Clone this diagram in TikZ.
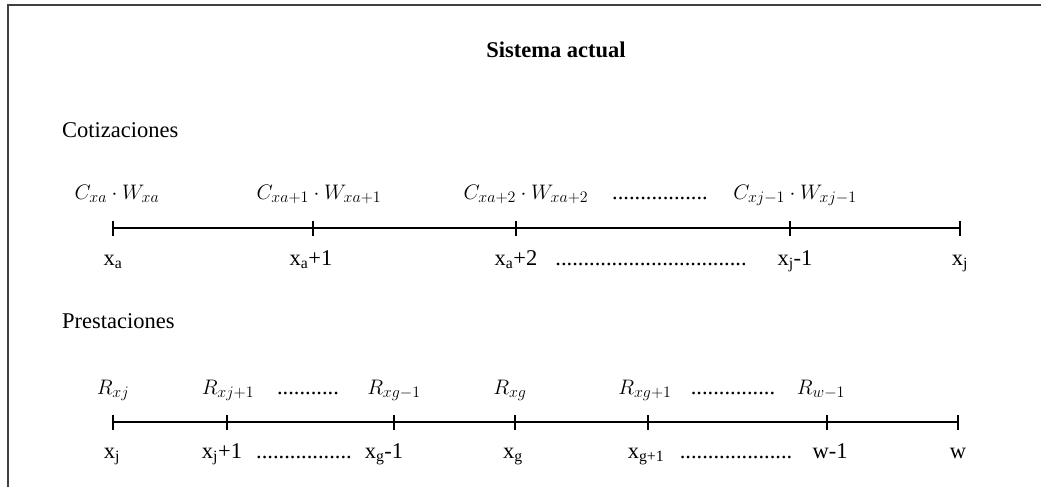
\RequirePackage{fix-cm}
\documentclass[tikz,border=0pt]{standalone}
\usepackage{fontspec}
\setmainfont{Liberation Serif}
\DeclareMathSizes{21}{21}{16}{12}
\definecolor{framegray}{HTML}{404040}
\tikzset{
  frameline/.style={draw=framegray, line width=2pt},
  axis/.style={draw=black, line width=2.7pt},
  tickmark/.style={draw=black, line width=2.7pt},
  lbl/.style={anchor=base, inner sep=0pt, font=\fontsize{22.5}{27}\selectfont},
  mlbl/.style={anchor=base, inner sep=0pt, font=\fontsize{21}{25}\selectfont},
  head/.style={anchor=base west, inner sep=0pt, font=\fontsize{22.5}{27}\selectfont},
  ttl/.style={anchor=base, inner sep=0pt, font=\fontsize{22.5}{27}\selectfont\bfseries}
}
\begin{document}
\begin{tikzpicture}[x=1pt, y=-1pt]
\useasboundingbox (0,0) rectangle (1041,487);
% frame (only top and left edges visible)
\coordinate (fbl) at (7.5,487);
\coordinate (ftl) at (7.5,5.5);
\coordinate (ftr) at (1041,5.5);
\draw[frameline] (fbl) -- (ftl) -- (ftr);

\node[ttl] (title) at (556,58) {Sistema actual};
\node[head] (cot) at (62,137) {Cotizaciones};
\node[head] (pre) at (62,328) {Prestaciones};

% ---- upper timeline ----
\coordinate (a0) at (113,228);
\coordinate (a1) at (313,228);
\coordinate (a2) at (516,228);
\coordinate (a3) at (790,228);
\coordinate (a4) at (960,228);
\draw[axis] (a0) -- (a4);
\foreach \n in {a0,a1,a2,a3,a4}
  \draw[tickmark] ([yshift=-7.5pt]\n) -- ([yshift=7.5pt]\n);

\node[mlbl] (ma0) at (117,199) {$C_{xa}\cdot W_{xa}$};
\node[mlbl] (ma1) at (319,199) {$C_{xa+1}\cdot W_{xa+1}$};
\node[mlbl] (ma2) at (526,199) {$C_{xa+2}\cdot W_{xa+2}$};
\node[lbl] (da1) at (660,199) {.................};
\node[mlbl] (ma3) at (795,199) {$C_{xj-1}\cdot W_{xj-1}$};

\node[lbl] (la0) at (113,265) {x\textsubscript{a}};
\node[lbl] (la1) at (311,265) {x\textsubscript{a}+1};
\node[lbl] (la2) at (516,265) {x\textsubscript{a}+2};
\node[lbl] (da2) at (651,265) {..................................};
\node[lbl] (la3) at (795,265) {x\textsubscript{j}-1};
\node[lbl] (la4) at (960,265) {x\textsubscript{j}};

% ---- lower timeline ----
\coordinate (b0) at (113,422);
\coordinate (b1) at (227,422);
\coordinate (b2) at (394,422);
\coordinate (b3) at (515,422);
\coordinate (b4) at (648,422);
\coordinate (b5) at (827,422);
\coordinate (b6) at (958,422);
\draw[axis] (b0) -- (b6);
\foreach \n in {b0,b1,b2,b3,b4,b5,b6}
  \draw[tickmark] ([yshift=-7.5pt]\n) -- ([yshift=7.5pt]\n);

\node[mlbl] (mb0) at (113,394) {$R_{xj}$};
\node[mlbl] (mb1) at (228,394) {$R_{xj+1}$};
\node[lbl] (db1) at (308,394) {...........};
\node[mlbl] (mb2) at (394,394) {$R_{xg-1}$};
\node[mlbl] (mb3) at (510,394) {$R_{xg}$};
\node[mlbl] (mb4) at (645,394) {$R_{xg+1}$};
\node[lbl] (db2) at (733,394) {...............};
\node[mlbl] (mb5) at (821,394) {$R_{w-1}$};

\node[lbl] (lb0) at (112,458) {x\textsubscript{j}};
\node[lbl] (lb1) at (222,458) {x\textsubscript{j}+1};
\node[lbl] (db3) at (304,458) {.................};
\node[lbl] (lb2) at (384,458) {x\textsubscript{g}-1};
\node[lbl] (lb3) at (513,458) {x\textsubscript{g}};
\node[lbl] (lb4) at (646,458) {x\textsubscript{g+1}};
\node[lbl] (db4) at (736,458) {....................};
\node[lbl] (lb5) at (830,458) {w-1};
\node[lbl] (lb6) at (958,458) {w};
\end{tikzpicture}
\end{document}
